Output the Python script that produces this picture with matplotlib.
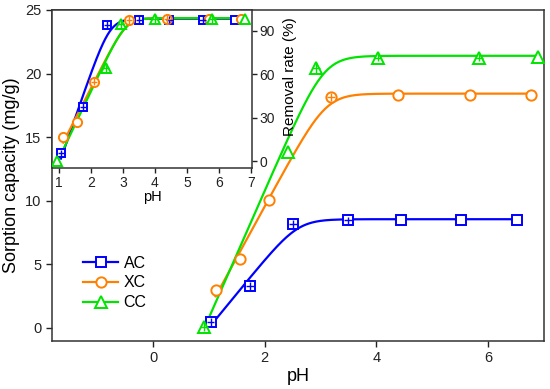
"""sorption capacity vs pH with removal-rate inset, smooth ramp fit curves"""
import numpy as np
import matplotlib

matplotlib.use("Agg")
import matplotlib.pyplot as plt
from matplotlib.lines import Line2D

plt.rcParams["font.family"] = ["Liberation Sans", "DejaVu Sans"]

# main panel: sorption capacity (mg/g)
ph_ac = [1.03, 1.74, 2.50, 3.49, 4.44, 5.51, 6.52]
cap_ac = [0.45, 3.28, 8.15, 8.44, 8.46, 8.49, 8.49]
cap_ac_err = [0.3, 0.3, 0.3, 0.3, 0, 0, 0]
ph_xc = [1.12, 1.56, 2.08, 3.18, 4.38, 5.67, 6.76]
cap_xc = [2.97, 5.42, 10.05, 18.17, 18.30, 18.30, 18.30]
cap_xc_err = [0, 0, 0, 0.3, 0, 0, 0]
ph_cc = [0.91, 2.42, 2.92, 4.02, 5.83, 6.90]
cap_cc = [0.08, 13.8, 20.46, 21.25, 21.25, 21.30]
cap_cc_err = [0.35, 0, 0.4, 0.3, 0.3, 0]

# inset: removal rate (%)
ph_ac_in = [1.05, 1.75, 2.50, 3.50, 4.45, 5.49, 6.52]
rr_ac = [5.3, 37.5, 94.0, 97.4, 97.5, 97.6, 97.6]
rr_ac_err = [2.5, 2.5, 2.5, 2.5, 2.5, 2.5, 0]
ph_xc_in = [1.12, 1.57, 2.09, 3.19, 4.38, 5.68, 6.70]
rr_xc = [16.4, 27.2, 54.8, 97.4, 98.1, 98.0, 98.0]
rr_xc_err = [0, 0, 2.5, 2.5, 2.5, 0, 0]
ph_cc_in = [0.93, 2.46, 2.93, 4.00, 5.80, 6.82]
rr_cc = [0.0, 64.0, 94.7, 98.0, 98.0, 98.0]
rr_cc_err = [0, 2.5, 3.0, 3.0, 3.0, 0]

labels = ["AC", "XC", "CC"]
colors = ["#0000ff", "#ff8000", "#00e400"]
markers = ["s", "o", "^"]
msizes = [6.7, 7.4, 8.2]


def ramp_fit(x, y):
    """least squares smoothed ramp y = A - k*w*softplus((xc - x)/w)
    grid over xc/w, linear solve for A/k"""
    x = np.asarray(x, float)
    y = np.asarray(y, float)
    xcg, wg = np.meshgrid(np.linspace(1.0, 5.0, 401), np.linspace(0.2, 1.0, 81))
    xcg = xcg.ravel()[:, None]
    wg = wg.ravel()[:, None]
    g = -wg * np.logaddexp(0.0, (xcg - x[None, :]) / wg)
    n = len(x)
    b = g.sum(1)
    c = (g * g).sum(1)
    d = y.sum()
    e = (g * y).sum(1)
    det = n * c - b * b
    det[np.abs(det) < 1e-12] = np.nan
    A = (c * d - b * e) / det
    k = (n * e - b * d) / det
    res = ((A[:, None] + k[:, None] * g - y) ** 2).sum(1)
    i = np.nanargmin(res)
    p = (A[i], k[i], xcg[i, 0], wg[i, 0])

    def f(xx):
        return p[0] - p[1] * p[3] * np.logaddexp(0.0, (p[2] - xx) / p[3])

    return f


def draw_series(ax, xs, ys, errs, xerr, color, marker, ms):
    f = ramp_fit(xs, ys)
    xx = np.linspace(min(xs), max(xs), 300)
    ax.plot(xx, f(xx), color=color, lw=1.6, zorder=2)
    xs = np.asarray(xs)
    ys = np.asarray(ys)
    errs = np.asarray(errs, float)
    ax.plot(xs, ys, ls="none", marker=marker, ms=ms, mfc="white",
            mec=color, mew=1.4, zorder=3)
    m = errs > 0
    if m.any():
        ax.errorbar(xs[m], ys[m], yerr=errs[m], xerr=xerr, fmt="none",
                    ecolor=color, elinewidth=1.0, capsize=0, zorder=4)


fig = plt.figure(figsize=(5.5, 3.89), dpi=100)
ax = fig.add_axes([0.0945, 0.1234, 0.8945, 0.8509])

main = [(ph_ac, cap_ac, cap_ac_err), (ph_xc, cap_xc, cap_xc_err), (ph_cc, cap_cc, cap_cc_err)]
for (xs, ys, es), c, mk, ms in zip(main, colors, markers, msizes):
    draw_series(ax, xs, ys, es, 0.07, c, mk, ms)

ax.set_xlim(-1.81, 7.0)
ax.set_ylim(-1.05, 25)
ax.set_xticks([0, 2, 4, 6])
ax.set_yticks([0, 5, 10, 15, 20, 25])
ax.tick_params(direction="out", length=4, width=1.0, labelsize=10.5, colors="#222222")
ax.set_xlabel("pH", fontsize=13, labelpad=2)
ax.set_ylabel("Sorption capacity (mg/g)", fontsize=13, labelpad=3.5)
for sp in ax.spines.values():
    sp.set_linewidth(1.1)
    sp.set_color("#333333")

handles = [Line2D([], [], color=c, lw=1.6, marker=mk, ms=ms, mfc="white", mec=c, mew=1.4)
           for c, mk, ms in zip(colors, markers, msizes)]
ax.legend(handles, labels, loc="upper left", bbox_to_anchor=(0.063, 0.258),
          frameon=False, fontsize=11.5, handlelength=2.2, handletextpad=0.35,
          labelspacing=0.3, borderpad=0, borderaxespad=0)

# inset
axi = fig.add_axes([0.0945, 0.568, 0.3636, 0.4063])
inset = [(ph_ac_in, rr_ac, rr_ac_err), (ph_xc_in, rr_xc, rr_xc_err), (ph_cc_in, rr_cc, rr_cc_err)]
for (xs, ys, es), c, mk, ms in zip(inset, colors, markers, msizes):
    draw_series(axi, xs, ys, es, 0.1, c, mk, ms - 0.8)

axi.set_xlim(0.77, 7.04)
axi.set_ylim(-4.8, 104.3)
axi.set_xticks(range(1, 8))
axi.set_yticks([0, 30, 60, 90])
axi.yaxis.tick_right()
axi.yaxis.set_label_position("right")
axi.tick_params(direction="out", length=3.5, width=1.0, labelsize=10, pad=2, colors="#222222")
axi.set_xlabel("pH", fontsize=10.5, labelpad=0)
axi.set_ylabel("Removal rate (%)", fontsize=11)
axi.yaxis.set_label_coords(1.155, 0.58)
for sp in axi.spines.values():
    sp.set_linewidth(1.1)
    sp.set_color("#333333")

fig.savefig("out.png", dpi=100)
